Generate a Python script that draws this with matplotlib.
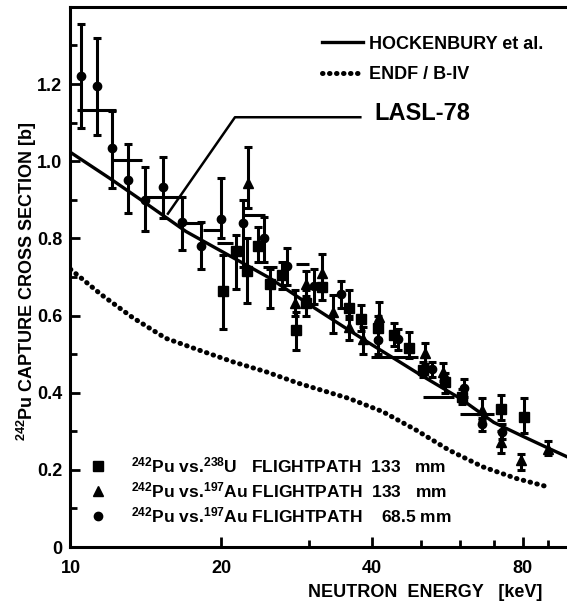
import numpy as np
import matplotlib
matplotlib.use('Agg')
import matplotlib.pyplot as plt
from matplotlib.ticker import FixedLocator, NullFormatter, FixedFormatter
from matplotlib.lines import Line2D

plt.rcParams['font.family'] = ['Liberation Sans', 'DejaVu Sans']
plt.rcParams['font.weight'] = 'bold'
plt.rcParams['mathtext.fontset'] = 'custom'
plt.rcParams['mathtext.rm'] = 'Liberation Sans:bold'
plt.rcParams['mathtext.it'] = 'Liberation Sans:bold'
plt.rcParams['mathtext.bf'] = 'Liberation Sans:bold'

# Hockenbury et al. (solid curve)
hock_e = [10, 12, 14, 17, 20, 25, 30, 35, 40, 45, 50, 60, 70, 80, 90, 98]
hock_s = [1.023, 0.955, 0.895, 0.818, 0.767, 0.697, 0.628, 0.572, 0.524, 0.483,
          0.446, 0.385, 0.323, 0.287, 0.256, 0.234]

# ENDF/B-IV (dotted curve)
endf_e = [10, 11.5, 13.3, 15.5, 18.1, 21.1, 24.6, 28.6, 32, 36, 42, 49, 57, 66.5, 77.5, 90.3]
endf_s = [0.72, 0.655, 0.595, 0.541, 0.51, 0.48, 0.454, 0.424, 0.405, 0.385, 0.351,
          0.303, 0.251, 0.208, 0.178, 0.155]

# 242Pu vs 238U, flightpath 133 mm (squares)
sq_e = [20.2, 21.4, 22.5, 23.7, 25.0, 26.5, 28.2, 29.5, 31.8, 35.9, 38.1, 41.1, 44.3,
        47.3, 50.5, 55.9, 60.6, 72.4, 80.4]
sq_s = [0.664, 0.768, 0.715, 0.780, 0.681, 0.705, 0.562, 0.633, 0.673, 0.620, 0.590,
        0.567, 0.549, 0.515, 0.459, 0.428, 0.389, 0.359, 0.338]
sq_lo = [0.565, 0.668, 0.632, 0.74, 0.62, 0.67, 0.51, 0.60, 0.64, 0.59, 0.56, 0.54,
         0.52, 0.49, 0.44, 0.40, 0.37, 0.33, 0.296]
sq_hi = [0.756, 0.81, 0.80, 0.83, 0.72, 0.74, 0.61, 0.665, 0.70, 0.666, 0.627, 0.60,
         0.581, 0.558, 0.48, 0.45, 0.41, 0.394, 0.385]

# 242Pu vs 197Au, flightpath 133 mm (triangles)
tri_e = [22.6, 28.1, 29.5, 31.8, 33.4, 35.9, 38.3, 41.3, 51.0, 55.5, 66.2, 72.4, 79.4, 89.8]
tri_s = [0.944, 0.633, 0.683, 0.709, 0.610, 0.571, 0.538, 0.597, 0.504, 0.454, 0.355,
         0.273, 0.225, 0.255]
tri_lo = [0.878, 0.60, 0.65, 0.68, 0.555, 0.536, 0.50, 0.565, 0.475, 0.43, 0.33, 0.245,
          0.20, 0.238]
tri_hi = [1.037, 0.665, 0.715, 0.759, 0.653, 0.60, 0.57, 0.636, 0.529, 0.477, 0.385,
          0.30, 0.24, 0.275]

# 242Pu vs 197Au, flightpath 68.5 mm (circles)
cir_e = [10.5, 11.3, 12.1, 13.0, 14.1, 15.3, 16.7, 18.2, 20.0, 22.1, 24.3, 27.0, 30.7,
         34.7, 41.1, 45.0, 52.8, 61.0, 66.2, 72.6]
cir_s = [1.221, 1.194, 1.034, 0.952, 0.900, 0.932, 0.843, 0.780, 0.849, 0.839, 0.802,
         0.728, 0.676, 0.655, 0.536, 0.538, 0.461, 0.411, 0.318, 0.299]
cir_lo = [1.086, 1.067, 0.93, 0.865, 0.82, 0.852, 0.77, 0.72, 0.80, 0.726, 0.74, 0.68,
          0.63, 0.62, 0.50, 0.51, 0.44, 0.39, 0.30, 0.28]
cir_hi = [1.355, 1.32, 1.13, 1.044, 0.984, 1.01, 0.907, 0.843, 0.956, 0.899, 0.856,
          0.775, 0.72, 0.689, 0.57, 0.565, 0.48, 0.435, 0.335, 0.32]

# LASL-78 group averages (horizontal bars)
lasl_e1 = [10.3, 12.1, 14.1, 16.7, 18.4, 19.6, 22.0, 24.2, 28.2, 39.8, 50.5, 59.8]
lasl_e2 = [12.3, 13.9, 16.9, 18.4, 20.0, 21.1, 24.4, 25.8, 30.0, 49.4, 58.2, 70.0]
lasl_s = [1.132, 1.003, 0.907, 0.84, 0.821, 0.787, 0.86, 0.726, 0.733, 0.493, 0.389, 0.346]

# pointer from the LASL-78 label
lasl_ptr_e = [15.65, 21.3, 37.9]
lasl_ptr_s = [0.864, 1.114, 1.114]

fig = plt.figure(figsize=(5.67, 6.11), dpi=100)
ax = fig.add_axes([0.1243, 0.1047, 0.8757, 0.884])

dots = (0, (0.1, 1.3))
ax.plot(endf_e, endf_s, color='black', lw=3.6, linestyle=dots, dash_capstyle='round')
ax.plot(hock_e, hock_s, color='black', lw=2.4)

ax.hlines(lasl_s, lasl_e1, lasl_e2, color='black', lw=2.2)
ax.plot(lasl_ptr_e, lasl_ptr_s, color='black', lw=1.8)
ax.text(40.5, 1.124, 'LASL-78', fontsize=17, fontweight='bold', va='center', ha='left')

def errs(s, lo, hi):
    s = np.array(s)
    return [s - np.array(lo), np.array(hi) - s]

ekw = dict(color='black', ecolor='black', elinewidth=2.2, capsize=3, capthick=2.2, ls='none')
ax.errorbar(sq_e, sq_s, yerr=errs(sq_s, sq_lo, sq_hi), marker='s', ms=6.5, **ekw)
ax.errorbar(tri_e, tri_s, yerr=errs(tri_s, tri_lo, tri_hi), marker='^', ms=6.5, **ekw)
ax.errorbar(cir_e, cir_s, yerr=errs(cir_s, cir_lo, cir_hi), marker='o', ms=6, **ekw)

ax.set_xscale('log')
ax.set_xlim(10, 98)
ax.set_ylim(0, 1.4)

ax.xaxis.set_major_locator(FixedLocator([10, 20, 40, 80]))
ax.xaxis.set_major_formatter(FixedFormatter(['10', '20', '40', '80']))
ax.xaxis.set_minor_locator(FixedLocator([30, 50, 60, 70, 90]))
ax.xaxis.set_minor_formatter(NullFormatter())
ax.set_yticks([0, 0.2, 0.4, 0.6, 0.8, 1.0, 1.2])
ax.set_yticklabels(['0', '0.2', '0.4', '0.6', '0.8', '1.0', '1.2'])
ax.set_yticks(np.arange(0.1, 1.35, 0.2), minor=True)

ax.tick_params(which='both', direction='in', width=2, labelsize=13)
ax.tick_params(which='major', length=7)
ax.tick_params(which='minor', length=5)
ax.tick_params(axis='x', pad=9)
ax.tick_params(axis='y', pad=6)
for sp in ['left', 'bottom', 'top']:
    ax.spines[sp].set_linewidth(2.2)
ax.spines['right'].set_visible(False)

h1 = [Line2D([], [], color='black', lw=2.4),
      Line2D([], [], color='black', lw=3.6, linestyle=dots, dash_capstyle='round')]
leg1 = ax.legend(h1, ['HOCKENBURY et al.', 'ENDF / B-IV'], loc='upper left',
                 bbox_to_anchor=(0.5065, 0.947), frameon=False, fontsize=13,
                 handlelength=2.3, handletextpad=0.3, borderpad=0, borderaxespad=0,
                 labelspacing=0.75)
ax.add_artist(leg1)

h2 = [Line2D([], [], color='black', marker='s', ms=6.5, ls='none'),
      Line2D([], [], color='black', marker='^', ms=6.5, ls='none'),
      Line2D([], [], color='black', marker='o', ms=6, ls='none')]
lab2 = [r'$^{242}$Pu vs.$^{238}$U   FLIGHTPATH  133   mm',
        r'$^{242}$Pu vs.$^{197}$Au FLIGHTPATH  133   mm',
        r'$^{242}$Pu vs.$^{197}$Au FLIGHTPATH    68.5 mm']
ax.legend(h2, lab2, loc='upper left', bbox_to_anchor=(0.038, 0.17), frameon=False,
          fontsize=12.5, handlelength=1.0, handletextpad=1.4, borderpad=0,
          borderaxespad=0, labelspacing=0.3)

fig.text(0.047, 0.54, r'$^{242}$Pu CAPTURE CROSS SECTION [b]', rotation=90,
         ha='center', va='center', fontsize=13, fontweight='bold')
fig.text(0.75, 0.03, 'NEUTRON  ENERGY   [keV]', ha='center', va='center',
         fontsize=13, fontweight='bold')

fig.savefig('out.png', dpi=100)
